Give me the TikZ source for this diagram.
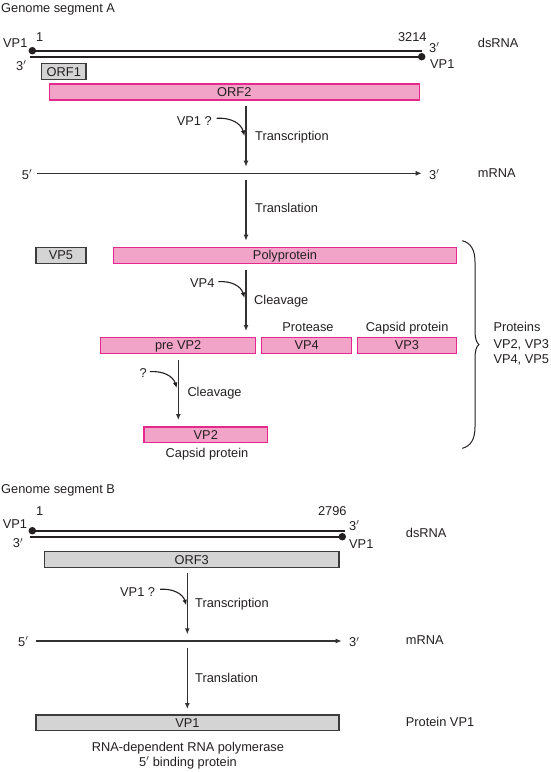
\documentclass[tikz,border=0pt]{standalone}
\usepackage{fontspec}
\setmainfont{Liberation Sans}
\usetikzlibrary{arrows.meta}
\definecolor{pinkfill}{RGB}{241,163,200}
\definecolor{pinkline}{RGB}{228,40,140}
\definecolor{grayfill}{RGB}{212,212,212}
\definecolor{grayline}{RGB}{60,60,60}
\definecolor{ink}{RGB}{35,31,32}
\definecolor{shaft}{RGB}{50,50,50}
\begin{document}
\begin{tikzpicture}[x=1pt,y=-1pt,
  every node/.style={font=\fontsize{12.8}{15}\selectfont, text=ink, inner sep=0pt},
  lbl/.style={anchor=base west},
  lblr/.style={anchor=base east},
  lblc/.style={anchor=base},
  boxbase/.style={line width=1.2pt, minimum height=16pt, text height=9pt, text depth=0pt},
  pinkbox/.style={boxbase, draw=pinkline, fill=pinkfill},
  graybox/.style={boxbase, draw=grayline, fill=grayfill},
  strand/.style={line width=1.8pt, draw=ink},
  rnadot/.style={circle, fill=ink, minimum size=7.5pt, inner sep=0pt},
  flow/.style={line width=1.4pt, draw=shaft, -{Latex[length=6pt,width=5pt]}},
  helper/.style={line width=1.1pt, draw=ink, -{Latex[length=5.5pt,width=4.6pt]}},
  bracepath/.style={line width=1pt, draw=ink}
]
\useasboundingbox (0,0) rectangle (550,772);

%% ---------------- Genome segment A ----------------
\node[lbl] (titleA) at (1,12.7) {Genome segment A};
\node[lbl] (vp1lA) at (3,47.3) {VP1};
\node[lbl] (oneA) at (36,41.2) {1};
\node[lblr] (endA) at (426.7,41.2) {3214};
\node[lbl] (t3rA) at (429,52.3) {3$'$};
\node[lbl] (vp1rA) at (430,68.6) {VP1};
\node[lbl] (t3lA) at (16,70.3) {3$'$};
\node[lbl] (dsA) at (477.7,47.6) {dsRNA};

\node[rnadot] (dA1) at (32.3,50.7) {};
\node[rnadot] (dA2) at (421.7,56.7) {};
\coordinate (topAend) at (421.7,50.7);
\coordinate (botAstart) at (30,56.7);
\draw[strand] (dA1.center) -- (topAend);
\draw[strand] (botAstart) -- (dA2.center);

\node[graybox, minimum width=44.3pt] (orf1) at (63.8,71.5) {ORF1};
\node[pinkbox, minimum width=370pt] (orf2) at (234.3,92) {ORF2};

\coordinate (trA0) at (246,106);
\coordinate (trA1) at (246,166.7);
\draw[flow] (trA0) -- (trA1);
\node[lbl] (vq1) at (176.7,125) {VP1 ?};
\coordinate (c1s) at (216.7,118.3);
\coordinate (c1e) at (244.5,136);
\draw[helper] (c1s) .. controls (230,117.3) and (241,123) .. (c1e);
\node[lbl] (transcA) at (255,140.3) {Transcription};

\coordinate (mA0) at (36.7,173.3);
\coordinate (mA1) at (421.7,173.3);
\draw[flow] (mA0) -- (mA1);
\node[lbl] (m5A) at (21.7,179.3) {5$'$};
\node[lbl] (m3A) at (429,179.3) {3$'$};
\node[lbl] (mrnaA) at (477.7,177.6) {mRNA};

\coordinate (tlA0) at (246,180);
\coordinate (tlA1) at (246,240.7);
\draw[flow] (tlA0) -- (tlA1);
\node[lbl] (translA) at (255,212.3) {Translation};

\node[graybox, minimum width=50pt] (vp5) at (61,255.3) {VP5};
\node[pinkbox, minimum width=343.4pt] (poly) at (285,255.3) {Polyprotein};

\coordinate (clA0) at (246,270);
\coordinate (clA1) at (246,331);
\draw[flow] (clA0) -- (clA1);
\node[lbl] (vp4lab) at (190,287.6) {VP4};
\coordinate (c2s) at (218.3,281.7);
\coordinate (c2e) at (244.5,298);
\draw[helper] (c2s) .. controls (231,280.7) and (241,286) .. (c2e);
\node[lbl] (cleavA) at (254,304.3) {Cleavage};

\node[lblc] (protease) at (308,331.6) {Protease};
\node[lblc] (capsid3) at (407.2,331.6) {Capsid protein};
\node[pinkbox, minimum width=155pt] (prevp2) at (178.2,345.3) {pre VP2};
\node[pinkbox, minimum width=90pt] (vp4) at (306.7,345.3) {VP4};
\node[pinkbox, minimum width=99.4pt] (vp3) at (407,345.3) {VP3};

\coordinate (clB0) at (178.3,360);
\coordinate (clB1) at (178.3,420);
\draw[flow] (clB0) -- (clB1);
\node[lbl] (qlab) at (139.3,377.6) {?};
\coordinate (c3s) at (150,371.7);
\coordinate (c3e) at (176.8,388);
\draw[helper] (c3s) .. controls (163,370.7) and (173,376) .. (c3e);
\node[lbl] (cleavB) at (187.3,396.3) {Cleavage};

\node[pinkbox, minimum width=123.7pt, minimum height=15.7pt] (vp2) at (205.8,434.8) {VP2};
\node[lblc] (capsid2) at (207,457) {Capsid protein};

\draw[bracepath] (462.3,240.7) .. controls (471,243) and (475,250) .. (475,262)
  -- (475,331) .. controls (475,338) and (476.5,343) .. (479,344.5)
  .. controls (476.5,346) and (475,351) .. (475,358)
  -- (475,427) .. controls (475,439) and (471,446) .. (462.3,448.3);
\node[lbl] (prot1) at (493.3,331.6) {Proteins};
\node[lbl] (prot2) at (493.3,348) {VP2, VP3};
\node[lbl] (prot3) at (493.3,363.6) {VP4, VP5};

%% ---------------- Genome segment B ----------------
\node[lbl] (titleB) at (1,493.3) {Genome segment B};
\node[lbl] (oneB) at (36,515.3) {1};
\node[lblr] (endB) at (346.7,515.3) {2796};
\node[lbl] (vp1lB) at (2.7,528) {VP1};
\node[lbl] (t3lB) at (12.7,547.6) {3$'$};
\node[lbl] (t3rB) at (349,530) {3$'$};
\node[lbl] (vp1rB) at (349,548) {VP1};
\node[lbl] (dsB) at (405.7,537.6) {dsRNA};

\node[rnadot] (dB1) at (32.3,530.7) {};
\node[rnadot] (dB2) at (342.3,536.7) {};
\coordinate (topBend) at (345,530.7);
\coordinate (botBstart) at (30,536.7);
\draw[strand] (dB1.center) -- (topBend);
\draw[strand] (botBstart) -- (dB2.center);

\node[graybox, minimum width=294.7pt, minimum height=15.6pt] (orf3) at (191.7,559.5) {ORF3};

\coordinate (trB0) at (187.3,573.3);
\coordinate (trB1) at (187.3,634.3);
\draw[flow] (trB0) -- (trB1);
\node[lbl] (vq2) at (120,596.3) {VP1 ?};
\coordinate (c4s) at (160,589.3);
\coordinate (c4e) at (186.2,605.3);
\draw[helper] (c4s) .. controls (173,588.3) and (183,594) .. (c4e);
\node[lbl] (transcB) at (195,607) {Transcription};

\coordinate (mB0) at (36,641);
\coordinate (mB1) at (341.7,641);
\draw[flow] (mB0) -- (mB1);
\node[lbl] (m5B) at (18,646) {5$'$};
\node[lbl] (m3B) at (349,646.5) {3$'$};
\node[lbl] (mrnaB) at (405.7,644) {mRNA};

\coordinate (tlB0) at (187.3,647.7);
\coordinate (tlB1) at (187.3,709);
\draw[flow] (tlB0) -- (tlB1);
\node[lbl] (translB) at (195,682) {Translation};

\node[graybox, minimum width=303pt, minimum height=15.7pt] (vp1box) at (187.5,722.8) {VP1};
\node[lbl] (protvp1) at (405.7,726.6) {Protein VP1};
\node[lblc] (rdrp) at (188,751) {RNA-dependent RNA polymerase};
\node[lblc] (bind) at (188,766.3) {5$'$ binding protein};
\end{tikzpicture}
\end{document}
